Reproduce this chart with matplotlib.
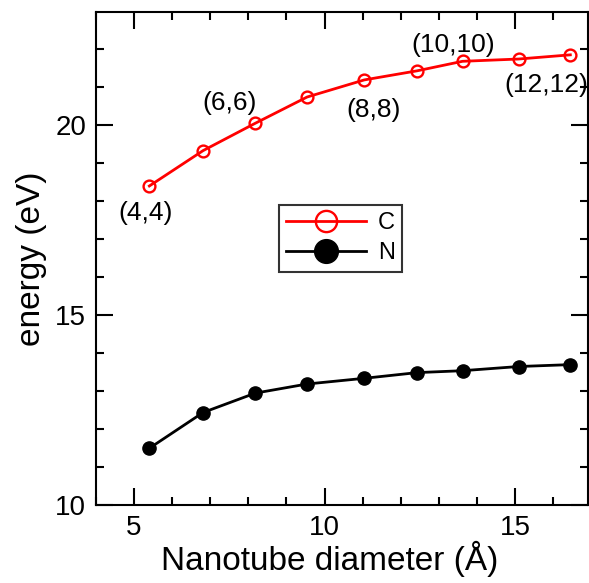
import matplotlib.pyplot as plt
from matplotlib.ticker import MultipleLocator

plt.rcParams['font.family'] = ['Liberation Sans', 'DejaVu Sans']

# Data
diameter = [5.40, 6.81, 8.18, 9.54, 11.04, 12.43, 13.62, 15.09, 16.45]
energy_C = [18.39, 19.32, 20.04, 20.73, 21.18, 21.42, 21.67, 21.73, 21.84]
energy_N = [11.49, 12.43, 12.94, 13.18, 13.33, 13.48, 13.53, 13.64, 13.69]

chirality_labels = ['(4,4)', '(6,6)', '(8,8)', '(10,10)', '(12,12)']
label_x = [5.31, 7.51, 11.28, 13.37, 15.81]
label_y = [17.68, 20.58, 20.39, 22.1, 21.05]

fig = plt.figure(figsize=(5.89, 5.83), dpi=100)
ax = fig.add_axes([0.163, 0.134, 0.8357, 0.8456])

ax.plot(diameter, energy_C, color='red', lw=2.0, marker='o', ms=8.5,
        mfc='none', mec='red', mew=1.7, label='C')
ax.plot(diameter, energy_N, color='black', lw=2.0, marker='o', ms=9.5,
        mfc='black', mec='black', label='N')

for t, x, y in zip(chirality_labels, label_x, label_y):
    ax.text(x, y, t, fontsize=19, ha='center', va='center')

ax.set_xlim(4, 16.92)
ax.set_ylim(10, 22.97)
ax.xaxis.set_major_locator(MultipleLocator(5))
ax.xaxis.set_minor_locator(MultipleLocator(1))
ax.yaxis.set_major_locator(MultipleLocator(5))
ax.yaxis.set_minor_locator(MultipleLocator(1))
ax.tick_params(which='both', direction='in', top=True, right=True, width=1.5)
ax.tick_params(which='major', length=12, labelsize=20, pad=7)
ax.tick_params(which='minor', length=6)
for s in ax.spines.values():
    s.set_linewidth(1.5)

ax.set_xlabel('Nanotube diameter (Å)', fontsize=24, labelpad=0)
ax.xaxis.set_label_coords(0.474, -0.072, transform=ax.transAxes)
ax.xaxis.label.set_va('top')
ax.set_ylabel('energy (eV)', fontsize=24, labelpad=6)

leg = ax.legend(loc='upper left', bbox_to_anchor=(0.371, 0.608), fontsize=17,
                frameon=True, fancybox=False, edgecolor='black',
                handlelength=3.4, borderpad=0.3, labelspacing=0.35,
                markerscale=1.8, handletextpad=0.5, borderaxespad=0)
leg.get_frame().set_linewidth(1.5)

fig.savefig('out.png', dpi=100)
